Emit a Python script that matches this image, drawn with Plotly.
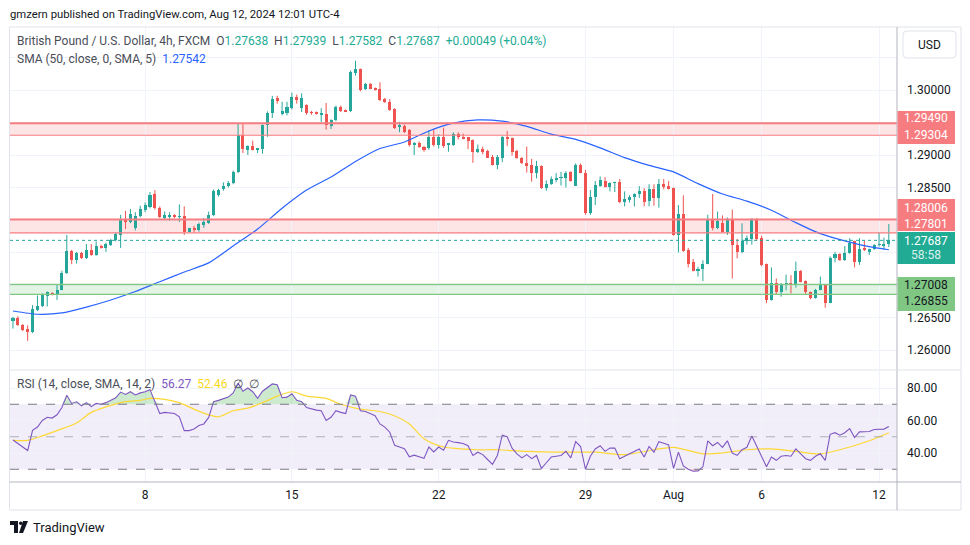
import plotly.graph_objects as go

W, H = 970, 545
FONT = "Roboto"
TXT = "#131722"
GRID = "#f0f3fa"
UP = "#26a69a"
DOWN = "#ef5350"

# ---------------- data (4h GBP/USD) ----------------
opens = [1.2646, 1.2650, 1.2639, 1.2632, 1.2627, 1.2661, 1.2667, 1.2683, 1.2688, 1.2685,
         1.2693, 1.2718, 1.2752, 1.2739, 1.2749, 1.2741, 1.2754, 1.2746, 1.2760, 1.2757,
         1.2762, 1.2769, 1.2777, 1.2802, 1.2797, 1.2788, 1.2806, 1.2815, 1.2820, 1.2840,
         1.2819, 1.2804, 1.2806, 1.2808, 1.2805, 1.2806, 1.2782, 1.2787, 1.2784, 1.2793,
         1.2795, 1.2808, 1.2838, 1.2847, 1.2852, 1.2857, 1.2874, 1.2931, 1.2908, 1.2914,
         1.2908, 1.2909, 1.2946, 1.2964, 1.2987, 1.2963, 1.2965, 1.2972, 1.2989, 1.2972,
         1.2977, 1.2966, 1.2965, 1.2963, 1.2963, 1.2945, 1.2954, 1.2974, 1.2969, 1.2967,
         1.3026, 1.3032, 1.3001, 1.3009, 1.3003, 1.3001, 1.2986, 1.2982, 1.2971, 1.2944,
         1.2945, 1.2938, 1.2915, 1.2919, 1.2913, 1.2911, 1.2928, 1.2915, 1.2927, 1.2916,
         1.2916, 1.2933, 1.2928, 1.2927, 1.2923, 1.2904, 1.2909, 1.2906, 1.2897, 1.2885,
         1.2896, 1.2928, 1.2926, 1.2906, 1.2895, 1.2887, 1.2884, 1.2873, 1.2883, 1.2849,
         1.2855, 1.2862, 1.2865, 1.2865, 1.2874, 1.2853, 1.2885, 1.2873, 1.2811, 1.2836,
         1.2853, 1.2860, 1.2851, 1.2857, 1.2858, 1.2827, 1.2831, 1.2835, 1.2840, 1.2845,
         1.2829, 1.2847, 1.2834, 1.2855, 1.2852, 1.2849, 1.2777, 1.2809, 1.2754, 1.2735,
         1.2723, 1.2724, 1.2733, 1.2802, 1.2788, 1.2796, 1.2782, 1.2801, 1.2761, 1.2751,
         1.2767, 1.2771, 1.2802, 1.2773, 1.2732, 1.2677, 1.2703, 1.2689, 1.2700, 1.2703,
         1.2701, 1.2722, 1.2706, 1.2689, 1.2680, 1.2693, 1.2700, 1.2673, 1.2741, 1.2748,
         1.2738, 1.2749, 1.2767, 1.2736, 1.2757, 1.2751, 1.2755, 1.2762, 1.2761, 1.27638]
highs = [1.2651, 1.2652, 1.2640, 1.2638, 1.2669, 1.2684, 1.2687, 1.2690, 1.2689, 1.2701,
         1.2722, 1.2777, 1.2754, 1.2751, 1.2751, 1.2763, 1.2763, 1.2767, 1.2762, 1.2765,
         1.2771, 1.2781, 1.2808, 1.2814, 1.2817, 1.2812, 1.2822, 1.2827, 1.2843, 1.2846,
         1.2821, 1.2813, 1.2812, 1.2809, 1.2824, 1.2821, 1.2788, 1.2791, 1.2796, 1.2803,
         1.2813, 1.2847, 1.2848, 1.2858, 1.2860, 1.2876, 1.2949, 1.2948, 1.2915, 1.2922,
         1.2911, 1.2947, 1.2967, 1.2991, 1.2991, 1.2982, 1.2982, 1.2996, 1.2993, 1.2995,
         1.2978, 1.2968, 1.2967, 1.2972, 1.2980, 1.2955, 1.2976, 1.2976, 1.2970, 1.3030,
         1.3045, 1.3033, 1.3011, 1.3011, 1.3004, 1.3012, 1.2988, 1.2986, 1.2972, 1.2951,
         1.2947, 1.2940, 1.2920, 1.2921, 1.2914, 1.2938, 1.2940, 1.2932, 1.2942, 1.2918,
         1.2935, 1.2935, 1.2933, 1.2927, 1.2924, 1.2916, 1.2913, 1.2908, 1.2900, 1.2900,
         1.2929, 1.2937, 1.2927, 1.2908, 1.2897, 1.2913, 1.2894, 1.2891, 1.2884, 1.2861,
         1.2867, 1.2872, 1.2874, 1.2875, 1.2875, 1.2887, 1.2887, 1.2877, 1.2846, 1.2860,
         1.2867, 1.2866, 1.2858, 1.2859, 1.2863, 1.2844, 1.2838, 1.2841, 1.2852, 1.2849,
         1.2855, 1.2855, 1.2863, 1.2863, 1.2860, 1.2850, 1.2823, 1.2838, 1.2757, 1.2740,
         1.2728, 1.2738, 1.2808, 1.2840, 1.2813, 1.2807, 1.2804, 1.2816, 1.2771, 1.2795,
         1.2776, 1.2803, 1.2803, 1.2776, 1.2733, 1.2727, 1.2710, 1.2703, 1.2716, 1.2715,
         1.2736, 1.2723, 1.2707, 1.2690, 1.2694, 1.2713, 1.2701, 1.2744, 1.2751, 1.2749,
         1.2760, 1.2772, 1.2768, 1.2772, 1.2768, 1.2756, 1.2763, 1.2781, 1.2773, 1.27939]
lows = [1.2633, 1.2637, 1.2629, 1.2614, 1.2626, 1.2660, 1.2666, 1.2667, 1.2684, 1.2677,
        1.2692, 1.2717, 1.2732, 1.2733, 1.2740, 1.2740, 1.2745, 1.2745, 1.2756, 1.2751,
        1.2760, 1.2767, 1.2757, 1.2786, 1.2795, 1.2784, 1.2804, 1.2812, 1.2818, 1.2816,
        1.2803, 1.2800, 1.2799, 1.2803, 1.2797, 1.2777, 1.2781, 1.2781, 1.2782, 1.2788,
        1.2794, 1.2806, 1.2836, 1.2845, 1.2850, 1.2855, 1.2872, 1.2903, 1.2900, 1.2907,
        1.2903, 1.2902, 1.2928, 1.2957, 1.2979, 1.2961, 1.2961, 1.2970, 1.2979, 1.2966,
        1.2962, 1.2962, 1.2962, 1.2951, 1.2939, 1.2940, 1.2952, 1.2966, 1.2966, 1.2966,
        1.3022, 1.2998, 1.3000, 1.3001, 1.2999, 1.2983, 1.2980, 1.2968, 1.2940, 1.2935,
        1.2934, 1.2913, 1.2900, 1.2911, 1.2905, 1.2908, 1.2913, 1.2910, 1.2911, 1.2905,
        1.2914, 1.2924, 1.2924, 1.2909, 1.2888, 1.2903, 1.2901, 1.2896, 1.2884, 1.2878,
        1.2889, 1.2914, 1.2899, 1.2894, 1.2886, 1.2873, 1.2859, 1.2864, 1.2848, 1.2845,
        1.2854, 1.2858, 1.2853, 1.2850, 1.2859, 1.2853, 1.2872, 1.2808, 1.2808, 1.2823,
        1.2851, 1.2850, 1.2844, 1.2843, 1.2826, 1.2821, 1.2827, 1.2821, 1.2834, 1.2821,
        1.2821, 1.2822, 1.2819, 1.2847, 1.2847, 1.2776, 1.2750, 1.2751, 1.2727, 1.2721,
        1.2713, 1.2706, 1.2732, 1.2784, 1.2786, 1.2781, 1.2777, 1.2710, 1.2741, 1.2749,
        1.2762, 1.2762, 1.2768, 1.2729, 1.2672, 1.2676, 1.2685, 1.2682, 1.2692, 1.2687,
        1.2696, 1.2704, 1.2686, 1.2678, 1.2679, 1.2692, 1.2665, 1.2672, 1.2735, 1.2737,
        1.2737, 1.2748, 1.2727, 1.2731, 1.2752, 1.2746, 1.2754, 1.2759, 1.2754, 1.27582]
closes = [1.2649, 1.2638, 1.2631, 1.2627, 1.2663, 1.2667, 1.2686, 1.2689, 1.2685, 1.2693,
          1.2718, 1.2752, 1.2738, 1.2749, 1.2741, 1.2754, 1.2746, 1.2760, 1.2757, 1.2763,
          1.2769, 1.2779, 1.2802, 1.2797, 1.2810, 1.2806, 1.2817, 1.2823, 1.2838, 1.2818,
          1.2804, 1.2807, 1.2807, 1.2804, 1.2806, 1.2782, 1.2787, 1.2785, 1.2794, 1.2797,
          1.2808, 1.2845, 1.2846, 1.2853, 1.2857, 1.2874, 1.2931, 1.2910, 1.2914, 1.2908,
          1.2910, 1.2946, 1.2964, 1.2986, 1.2983, 1.2968, 1.2974, 1.2990, 1.2986, 1.2988,
          1.2964, 1.2965, 1.2964, 1.2964, 1.2946, 1.2954, 1.2974, 1.2968, 1.2967, 1.3028,
          1.3032, 1.3000, 1.3009, 1.3002, 1.3000, 1.2985, 1.2981, 1.2970, 1.2942, 1.2945,
          1.2936, 1.2915, 1.2919, 1.2913, 1.2908, 1.2928, 1.2915, 1.2928, 1.2914, 1.2917,
          1.2933, 1.2928, 1.2926, 1.2922, 1.2904, 1.2909, 1.2905, 1.2896, 1.2885, 1.2897,
          1.2928, 1.2926, 1.2905, 1.2895, 1.2887, 1.2884, 1.2873, 1.2883, 1.2849, 1.2855,
          1.2863, 1.2865, 1.2866, 1.2873, 1.2860, 1.2885, 1.2873, 1.2811, 1.2836, 1.2854,
          1.2862, 1.2851, 1.2857, 1.2858, 1.2827, 1.2832, 1.2836, 1.2840, 1.2845, 1.2828,
          1.2847, 1.2834, 1.2855, 1.2851, 1.2848, 1.2777, 1.2809, 1.2752, 1.2733, 1.2722,
          1.2724, 1.2733, 1.2802, 1.2788, 1.2799, 1.2782, 1.2801, 1.2761, 1.2751, 1.2767,
          1.2772, 1.2802, 1.2771, 1.2731, 1.2677, 1.2703, 1.2689, 1.2702, 1.2703, 1.2700,
          1.2722, 1.2705, 1.2689, 1.2680, 1.2693, 1.2700, 1.2673, 1.2742, 1.2748, 1.2739,
          1.2749, 1.2764, 1.2736, 1.2756, 1.2755, 1.2755, 1.2762, 1.2763, 1.2762, 1.27687]

# SMA(50) read at a few candles
sma_idx = [0, 5, 10, 15, 20, 25, 30, 35, 40, 45, 50, 55, 60, 65, 70, 75, 80, 85, 90,
           95, 100, 105, 110, 115, 120, 125, 130, 135, 140, 145, 150, 155, 160, 165,
           170, 175, 179]
sma_val = [1.2660, 1.2655, 1.2657, 1.2666, 1.2677, 1.2690, 1.2705, 1.2720, 1.2734,
           1.2760, 1.2786, 1.2818, 1.2846, 1.2866, 1.2890, 1.2910, 1.2920, 1.2937,
           1.2949, 1.2954, 1.2952, 1.2944, 1.2932, 1.2924, 1.2911, 1.2896, 1.2884,
           1.2874, 1.2856, 1.2840, 1.2829, 1.2815, 1.2796, 1.2779, 1.2768, 1.2759, 1.27542]

# RSI(14) per candle
rsi = [48, 46, 44, 41.5, 54, 56, 60, 62, 61.5, 63.5,
       68, 75.5, 70.5, 71.5, 69, 71, 68.5, 70.5, 70, 71,
       72.5, 74, 77.5, 76, 77.7, 75.7, 77, 77.7, 79, 72,
       64.3, 65, 64.5, 64.3, 62.3, 53.8, 53.8, 54.8, 56.9, 57.9,
       61.9, 71.6, 72.4, 73.6, 74.4, 77, 83, 78, 80, 77.7,
       73.6, 78, 80, 82.5, 82, 74, 74.4, 76.5, 72.4, 71.6,
       68, 67, 66.4, 66, 60, 62, 66, 65, 64.3, 75.7,
       75, 66, 65.5, 64.3, 63, 57.9, 55.9, 52.8, 44.7, 43.7,
       42.7, 37.7, 38.7, 37.7, 36.7, 43.7, 40.7, 43.7, 41.7, 47.8,
       46.8, 46.4, 45.8, 44.5, 38.5, 40.5, 39, 36, 33, 38.5,
       51, 50, 43, 39.5, 37, 39, 36.5, 38.5, 30.5, 34,
       37.5, 38, 38.5, 41, 37, 47, 44, 30, 38, 42.5,
       44.5, 41, 43, 43, 36.5, 38, 39.5, 41, 42.5, 37.5,
       44, 40.5, 47, 46, 45, 30.5, 40.5, 32, 30, 28.8,
       29, 31.5, 47.5, 44.5, 46.5, 43.5, 47.5, 40, 38.5, 42,
       43.5, 50.5, 44, 37.5, 31.5, 37.5, 35.5, 38, 38.5, 38,
       42.5, 39.5, 36.5, 35.5, 38, 39.5, 35.5, 51.5, 52.5, 51,
       52.5, 55, 49.5, 53, 53, 53.2, 54.5, 54.6, 54.7, 56.27]

# RSI-based SMA(14), read at a few candles
rsima_idx = [0, 3, 6, 9, 13, 16, 19, 23, 26, 28, 31, 34, 37, 40, 42, 45, 48, 51, 54,
             57, 60, 64, 67, 71, 74, 77, 81, 84, 88, 91, 95, 99, 105, 112, 119, 125,
             131, 135, 141, 145, 150, 155, 160, 165, 169, 175, 179]
rsima_val = [47.8, 47.8, 50.5, 53.8, 58.5, 65, 68.4, 71.6, 72.4, 73.6, 73, 71, 67, 63.5,
             62.3, 66, 67.6, 71, 75, 77.7, 75, 73.6, 70, 67, 66, 64, 57.9, 48.8, 43.7,
             42.7, 42, 42, 41, 40.5, 40.5, 39, 42, 43.5, 39.5, 40, 42, 42.5, 41, 39.5,
             42, 47.5, 52.46]

# time axis
date_idx = [27, 57, 87, 117, 135, 153, 177]
date_lbl = ["8", "15", "22", "29", "Aug", "6", "12"]

# price axis
price_ticks = [1.260, 1.265, 1.270, 1.275, 1.280, 1.285, 1.290, 1.295, 1.300, 1.305]
price_lbls = ["1.26000", "1.26500", "", "", "", "1.28500", "1.29000", "", "1.30000", ""]

# horizontal zones drawn on the chart
res_zone = [1.29304, 1.29490]
mid_zone = [1.27801, 1.28006]
sup_zone = [1.26855, 1.27008]

last = closes[-1]
sma_last = sma_val[-1]
rsi_last = rsi[-1]
rsima_last = rsima_val[-1]


def px(x):
    return x / W


def py(y):
    return 1 - y / H


n = len(closes)
idx = list(range(n))

fig = go.Figure()

# wicks
for is_up, col in [(True, UP), (False, DOWN)]:
    xs, ys = [], []
    for i in idx:
        if (closes[i] >= opens[i]) == is_up:
            xs += [i, i, None]
            ys += [lows[i], highs[i], None]
    fig.add_trace(go.Scatter(x=xs, y=ys, mode="lines", line=dict(color=col, width=1),
                             hoverinfo="skip", xaxis="x", yaxis="y"))

# bodies
for is_up, col in [(True, UP), (False, DOWN)]:
    bx, bh, bb = [], [], []
    for i in idx:
        if (closes[i] >= opens[i]) == is_up:
            bx.append(i)
            bh.append(max(abs(closes[i] - opens[i]), 0.00003))
            bb.append(min(opens[i], closes[i]))
    fig.add_trace(go.Bar(x=bx, y=bh, base=bb, width=0.62, marker=dict(color=col, line=dict(width=0)),
                         xaxis="x", yaxis="y"))

# SMA
fig.add_trace(go.Scatter(x=sma_idx, y=sma_val, mode="lines",
                         line=dict(color="#2962ff", width=1.2, shape="spline", smoothing=0.6),
                         hoverinfo="skip", xaxis="x", yaxis="y"))

# RSI overbought / oversold fills
fig.add_trace(go.Scatter(x=idx, y=[70] * n, mode="lines", line=dict(width=0),
                         hoverinfo="skip", xaxis="x2", yaxis="y2"))
fig.add_trace(go.Scatter(x=idx, y=[max(v, 70) for v in rsi], mode="lines", line=dict(width=0),
                         fill="tonexty", fillcolor="rgba(76,175,80,0.28)",
                         hoverinfo="skip", xaxis="x2", yaxis="y2"))
fig.add_trace(go.Scatter(x=idx, y=[30] * n, mode="lines", line=dict(width=0),
                         hoverinfo="skip", xaxis="x2", yaxis="y2"))
fig.add_trace(go.Scatter(x=idx, y=[min(v, 30) for v in rsi], mode="lines", line=dict(width=0),
                         fill="tonexty", fillcolor="rgba(242,54,69,0.25)",
                         hoverinfo="skip", xaxis="x2", yaxis="y2"))

# RSI lines
fig.add_trace(go.Scatter(x=rsima_idx, y=rsima_val, mode="lines",
                         line=dict(color="#fdd835", width=1.2, shape="spline", smoothing=0.8),
                         hoverinfo="skip", xaxis="x2", yaxis="y2"))
fig.add_trace(go.Scatter(x=idx, y=rsi, mode="lines", line=dict(color="#7e57c2", width=1.1),
                         hoverinfo="skip", xaxis="x2", yaxis="y2"))

shapes = []
# zones
for zone, fill, edge, top_w in [(res_zone, "rgba(247,124,128,0.2)", "#f77c80", 2),
                                (mid_zone, "rgba(247,124,128,0.2)", "#f77c80", 2),
                                (sup_zone, "rgba(129,199,132,0.22)", "#81c784", 1.5)]:
    shapes.append(dict(type="rect", xref="x domain", yref="y", x0=0, x1=1, y0=zone[0], y1=zone[1],
                       fillcolor=fill, line=dict(width=0), layer="below"))
    shapes.append(dict(type="line", xref="x domain", yref="y", x0=0, x1=1, y0=zone[1], y1=zone[1],
                       line=dict(color=edge, width=top_w)))
    shapes.append(dict(type="line", xref="x domain", yref="y", x0=0, x1=1, y0=zone[0], y1=zone[0],
                       line=dict(color=edge, width=1.2)))
# last price dotted line
shapes.append(dict(type="line", xref="x domain", yref="y", x0=0, x1=1, y0=last, y1=last,
                   line=dict(color=UP, width=1, dash="dot")))
# RSI band and levels
shapes.append(dict(type="rect", xref="x2 domain", yref="y2", x0=0, x1=1, y0=30, y1=70,
                   fillcolor="rgba(126,87,194,0.1)", line=dict(width=0), layer="below"))
for lvl, col in [(70, "#787b86"), (50, "rgba(120,123,134,0.55)"), (30, "#787b86")]:
    shapes.append(dict(type="line", xref="x2 domain", yref="y2", x0=0, x1=1, y0=lvl, y1=lvl,
                       line=dict(color=col, width=1, dash="dash")))

# frame, separators
shapes.append(dict(type="rect", xref="paper", yref="paper", x0=px(9.5), x1=px(961), y0=py(510), y1=py(27),
                   line=dict(color="#e0e3eb", width=1)))
shapes.append(dict(type="line", xref="paper", yref="paper", x0=px(897), x1=px(897), y0=py(510), y1=py(27),
                   line=dict(color="#b2b5be", width=1)))
shapes.append(dict(type="line", xref="paper", yref="paper", x0=px(9.5), x1=px(961), y0=py(482), y1=py(482),
                   line=dict(color="#b2b5be", width=1)))
shapes.append(dict(type="line", xref="paper", yref="paper", x0=px(9.5), x1=px(961), y0=py(370), y1=py(370),
                   line=dict(color="#e0e3eb", width=1)))

# USD button (rounded)
x0, x1, y0, y1, r = px(903), px(956), py(31), py(58), 4
rx, ry = r / W, r / H
usd_path = (f"M {x0+rx},{y0} L {x1-rx},{y0} Q {x1},{y0} {x1},{y0-ry} L {x1},{y1+ry} "
            f"Q {x1},{y1} {x1-rx},{y1} L {x0+rx},{y1} Q {x0},{y1} {x0},{y1+ry} "
            f"L {x0},{y0-ry} Q {x0},{y0} {x0+rx},{y0} Z")
shapes.append(dict(type="path", xref="paper", yref="paper", path=usd_path,
                   fillcolor="white", line=dict(color="#e0e3eb", width=1)))

# price tags on the right axis
tags = [(111, 144, "#f77c80"), (199, 231, "#f77c80"), (232, 264, "#22ab94"), (277, 311, "#81c784")]
for t0, t1, col in tags:
    shapes.append(dict(type="rect", xref="paper", yref="paper", x0=px(897.5), x1=px(955),
                       y0=py(t1), y1=py(t0), fillcolor=col, line=dict(width=0)))

# TradingView logo bits
shapes.append(dict(type="rect", xref="paper", yref="paper", x0=px(10), x1=px(18), y0=py(525), y1=py(521),
                   fillcolor=TXT, line=dict(width=0)))
shapes.append(dict(type="rect", xref="paper", yref="paper", x0=px(14), x1=px(18), y0=py(533), y1=py(521),
                   fillcolor=TXT, line=dict(width=0)))
shapes.append(dict(type="circle", xref="paper", yref="paper", x0=px(19), x1=px(22.5), y0=py(525), y1=py(521.5),
                   fillcolor=TXT, line=dict(width=0)))
shapes.append(dict(type="path", xref="paper", yref="paper",
                   path=f"M {px(23)},{py(521)} L {px(28)},{py(521)} L {px(23)},{py(533)} L {px(19)},{py(533)} Z",
                   fillcolor=TXT, line=dict(width=0)))

annotations = []


def ann(text, x, y, size=12, color=TXT, xanchor="left", **kw):
    annotations.append(dict(text=text, x=px(x), y=py(y), xref="paper", yref="paper", showarrow=False,
                            xanchor=xanchor, yanchor="middle", font=dict(size=size, color=color, family=FONT),
                            **kw))


NB = "\u00a0"
VAL = "#22ab94"
ann("gmzern published on TradingView.com, Aug 12, 2024 12:01 UTC-4", 8, 14, size=11.3)
ann(f"British Pound / U.S. Dollar, 4h, FXCM{NB}{NB}"
    f"O<span style='color:{VAL}'>{opens[-1]:.5f}</span>{NB}{NB}"
    f"H<span style='color:{VAL}'>{highs[-1]:.5f}</span>{NB}{NB}"
    f"L<span style='color:{VAL}'>{lows[-1]:.5f}</span>{NB}{NB}"
    f"C<span style='color:{VAL}'>{closes[-1]:.5f}</span>{NB}{NB}"
    f"<span style='color:{VAL}'>+{closes[-1]-opens[-1]:.5f} (+{(closes[-1]-opens[-1])/opens[-1]*100:.2f}%)</span>",
    15, 41, color="#4a4d57")
ann(f"SMA (50, close, 0, SMA, 5){NB}{NB}<span style='color:#2962ff'>{sma_last:.5f}</span>", 15, 59,
    color="#4a4d57")
ann(f"RSI (14, close, SMA, 14, 2){NB}{NB}<span style='color:#7e57c2'>{rsi_last:.2f}</span>{NB}{NB}"
    f"<span style='color:#f9d71c'>{rsima_last:.2f}</span>{NB}{NB}∅{NB}{NB}∅", 15, 384, color="#4a4d57")
ann("USD", 929.5, 45, xanchor="center")

tag_text = [(f"{res_zone[1]:.5f}", 118, "white"), (f"{res_zone[0]:.5f}", 135, "white"),
            (f"{mid_zone[1]:.5f}", 207.5, "white"), (f"{mid_zone[0]:.5f}", 224, "white"),
            (f"{last:.5f}", 241.5, "white"), ("58:58", 255, "rgba(255,255,255,0.85)"),
            (f"{sup_zone[1]:.5f}", 285, TXT), (f"{sup_zone[0]:.5f}", 301, TXT)]
for t, y, c in tag_text:
    ann(t, 926, y, color=c, xanchor="center")

ann("TradingView", 31, 527, size=13)

fig.update_layout(
    width=W, height=H,
    margin=dict(l=0, r=0, t=0, b=0),
    paper_bgcolor="white", plot_bgcolor="white",
    showlegend=False, barmode="overlay", bargap=0,
    hovermode=False,
    font=dict(family=FONT, size=12, color=TXT),
    xaxis=dict(domain=[px(10), px(897)], range=[-0.61, 180.67], anchor="y",
               tickvals=date_idx, showticklabels=False, showgrid=True, gridcolor=GRID,
               zeroline=False, showline=False, fixedrange=True),
    yaxis=dict(domain=[py(369), py(27)], range=[1.30 - 279 / 6500, 1.30 + 63 / 6500], anchor="x",
               side="right", tickvals=price_ticks, ticktext=price_lbls, showgrid=True, gridcolor=GRID,
               zeroline=False, showline=False, ticks="", ticklabelstandoff=9,
               tickfont=dict(size=12, color=TXT, family=FONT)),
    xaxis2=dict(domain=[px(10), px(897)], range=[-0.61, 180.67], anchor="y2",
                tickvals=date_idx, ticktext=date_lbl, showgrid=True, gridcolor=GRID,
                zeroline=False, showline=False, ticks="", ticklabelstandoff=4,
                tickfont=dict(size=12, color=TXT, family=FONT)),
    yaxis2=dict(domain=[py(482), py(371)], range=[80 - 94 / 1.625, 80 + 17 / 1.625], anchor="x2",
                side="right", tickvals=[40, 60, 80], tickformat=".2f", showgrid=True, gridcolor=GRID,
                zeroline=False, showline=False, ticks="", ticklabelstandoff=9,
                tickfont=dict(size=12, color=TXT, family=FONT)),
    shapes=shapes,
    annotations=annotations,
)

fig.write_html("out.html", config={"displayModeBar": False},
               post_script="document.body.style.margin='0';")
